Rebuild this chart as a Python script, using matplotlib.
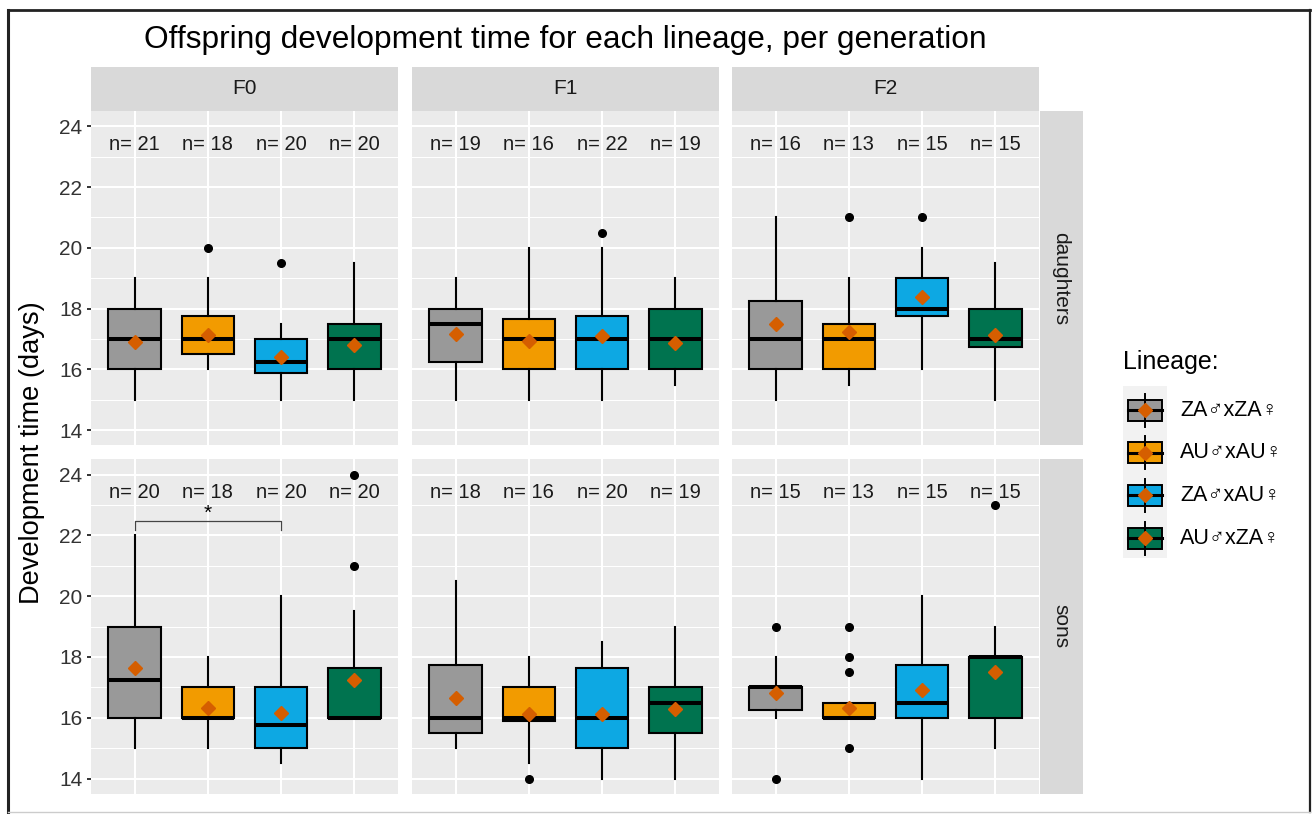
import matplotlib
matplotlib.use("Agg")
import matplotlib.pyplot as plt
from matplotlib.patches import Rectangle
from matplotlib.lines import Line2D

plt.rcParams['font.family'] = ['Liberation Sans', 'DejaVu Sans']

# --- datos ---
linajes = ['ZA♂xZA♀', 'AU♂xAU♀', 'ZA♂xAU♀', 'AU♂xZA♀']
generaciones = ['F0', 'F1', 'F2']
sexos = ['daughters', 'sons']
colores = ['#999999', '#F29B00', '#0DA8E3', '#00734F']

# filas: daughters F0, F1, F2, sons F0, F1, F2 ; columnas: linajes
n_obs = [[21, 18, 20, 20], [19, 16, 22, 19], [16, 13, 15, 15],
         [20, 18, 20, 20], [18, 16, 20, 19], [15, 13, 15, 15]]
q1 = [[16, 16.5, 15.875, 16], [16.25, 16, 16, 16], [16, 16, 17.75, 16.75],
      [16, 16, 15, 16], [15.5, 15.88, 15, 15.5], [16.25, 16, 16, 16]]
medianas = [[17, 17, 16.25, 17], [17.5, 17, 17, 17], [17, 17, 18, 17],
            [17.25, 16, 15.75, 16], [16, 16, 16, 16.5], [17, 16, 16.5, 18]]
q3 = [[18, 17.75, 17, 17.5], [18, 17.65, 17.75, 18], [18.25, 17.5, 19, 18],
      [19, 17, 17, 17.65], [17.75, 17, 17.65, 17], [17, 16.5, 17.75, 18]]
bigote_inf = [[15, 16, 15, 15], [15, 15, 15, 15.5], [15, 15.5, 16, 15],
              [15, 15, 14.5, 16], [15, 14.5, 14, 14], [16, 16, 14, 15]]
bigote_sup = [[19, 19, 17.5, 19.5], [19, 20, 20, 19], [21, 19, 20, 19.5],
              [22, 18, 20, 19.5], [20.5, 18, 18.5, 19], [18, 16.5, 20, 19]]
medias = [[16.92, 17.13, 16.4, 16.8], [17.18, 16.94, 17.1, 16.88], [17.49, 17.22, 18.37, 17.13],
          [17.63, 16.32, 16.16, 17.25], [16.65, 16.14, 16.14, 16.3], [16.8, 16.32, 16.9, 17.5]]
atipicos = [[[], [20], [19.5], []], [[], [], [20.5], []], [[], [21], [21], []],
            [[], [], [], [21, 24]], [[], [14], [], []], [[19, 14], [19, 18, 17.5, 15], [], [23]]]

# --- figura ---
W, H = 1314, 814
fig = plt.figure(figsize=(W / 100, H / 100), dpi=100)

col_izq = [90.7, 411.7, 731.7]
ancho = 307.6
fila_sup = [111.0, 459.3]
alto = 334.5

for r, sexo in enumerate(sexos):
    for c, gen in enumerate(generaciones):
        k = r * 3 + c
        ax = fig.add_axes([col_izq[c] / W, 1 - (fila_sup[r] + alto) / H, ancho / W, alto / H])
        ax.set_facecolor('#EBEBEB')
        for s in ax.spines.values():
            s.set_visible(False)
        ax.set_xlim(0.4, 4.6)
        ax.set_ylim(13.5, 24.5)
        ax.set_xticks([1, 2, 3, 4])
        ax.set_yticks([14, 16, 18, 20, 22, 24])
        ax.set_yticks([15, 17, 19, 21, 23], minor=True)
        ax.set_axisbelow(True)
        ax.grid(which='major', color='white', lw=1.5)
        ax.grid(which='minor', axis='y', color='white', lw=0.75)
        ax.tick_params(axis='x', length=0, labelbottom=False)
        ax.tick_params(axis='y', which='minor', length=0)
        if c == 0:
            ax.tick_params(axis='y', which='major', length=3, width=1.4, color='#333333',
                           labelsize=15, labelcolor='#333333', pad=3)
        else:
            ax.tick_params(axis='y', which='major', length=0, labelleft=False)

        stats = []
        for i in range(4):
            stats.append({'med': medianas[k][i], 'q1': q1[k][i], 'q3': q3[k][i],
                          'whislo': bigote_inf[k][i], 'whishi': bigote_sup[k][i],
                          'mean': medias[k][i], 'fliers': atipicos[k][i]})
        cajas = ax.bxp(stats, positions=[1, 2, 3, 4], widths=0.72, patch_artist=True,
                       showmeans=True, showcaps=False,
                       boxprops=dict(edgecolor='black', linewidth=1.5),
                       medianprops=dict(color='black', linewidth=2.9),
                       whiskerprops=dict(color='black', linewidth=1.5),
                       flierprops=dict(marker='o', markerfacecolor='black', markeredgecolor='black',
                                       markersize=5.5),
                       meanprops=dict(marker='D', markerfacecolor='#D55E00', markeredgecolor='#D55E00',
                                      markersize=7.5))
        for caja, col in zip(cajas['boxes'], colores):
            caja.set_facecolor(col)

        for i in range(4):
            ax.text(i + 1, 23.4, f"n= {n_obs[k][i]}", ha='center', va='center',
                    fontsize=14.5, color='#1A1A1A')

        if r == 1 and c == 0:
            ax.plot([1, 1, 3, 3], [22.16, 22.47, 22.47, 22.16], color='#444444', lw=0.9)
            ax.text(2, 22.72, '*', ha='center', va='center', fontsize=15)

        # franjas
        if r == 0:
            sx = fig.add_axes([col_izq[c] / W, 1 - 111 / H, ancho / W, 44.3 / H])
            sx.set_facecolor('#D9D9D9')
            sx.set_xticks([]); sx.set_yticks([])
            for s in sx.spines.values():
                s.set_visible(False)
            sx.text(0.5, 0.5, gen, ha='center', va='center', fontsize=15, color='#1A1A1A',
                    transform=sx.transAxes)
    sy = fig.add_axes([1039.5 / W, 1 - (fila_sup[r] + alto) / H, 43.2 / W, alto / H])
    sy.set_facecolor('#D9D9D9')
    sy.set_xticks([]); sy.set_yticks([])
    for s in sy.spines.values():
        s.set_visible(False)
    sy.text(0.5, 0.5, sexo, ha='center', va='center', fontsize=15, color='#1A1A1A',
            rotation=-90, transform=sy.transAxes)

# titulos
fig.text(565 / W, 1 - 48.3 / H, 'Offspring development time for each lineage, per generation',
         ha='center', va='baseline', fontsize=22.8)
fig.text(32.5 / W, 1 - 453 / H, 'Development time (days)', rotation=90,
         ha='center', va='center', fontsize=19.6)

# leyenda dibujada a mano (coordenadas en pixeles)
lax = fig.add_axes([0, 0, 1, 1], facecolor='none')
lax.set_xlim(0, W)
lax.set_ylim(H, 0)
lax.axis('off')
lax.text(1123, 362, 'Lineage:', ha='left', va='center', fontsize=18)
lax.add_patch(Rectangle((1123, 386), 44, 172, facecolor='#F2F2F2', edgecolor='none'))
for i, (lab, col) in enumerate(zip(linajes, colores)):
    cy = 410 + 42.7 * i
    lax.plot([1145, 1145], [cy - 16.5, cy + 16.5], color='black', lw=1.4)
    lax.add_patch(Rectangle((1128, cy - 10.5), 34, 21, facecolor=col, edgecolor='black', lw=1.4))
    lax.plot([1128, 1162], [cy, cy], color='black', lw=2.2)
    lax.plot([1145], [cy], marker='D', color='#D55E00', markersize=7.5)
    lax.text(1180, cy, lab, ha='left', va='center', fontsize=15.5)

# marco
lax.add_line(Line2D([7.5, 7.5], [10, 812], color='#222222', lw=2.2))
lax.add_line(Line2D([7.5, 1310], [10, 10], color='#222222', lw=2))
lax.add_line(Line2D([1310, 1310], [10, 812], color='#222222', lw=1.6))
lax.add_line(Line2D([7.5, 1310], [812, 812], color='#CCCCCC', lw=1))

fig.savefig('out.png', dpi=100)
